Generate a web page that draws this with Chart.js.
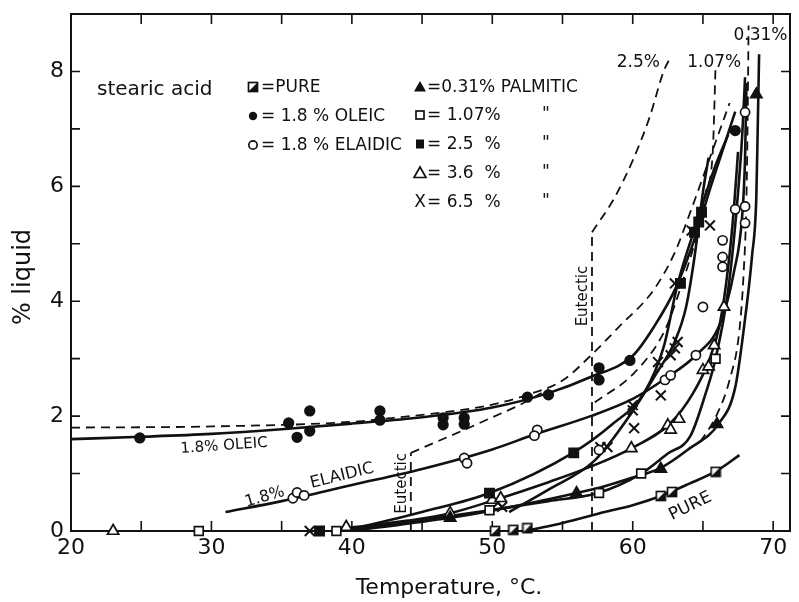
<!DOCTYPE html>
<html>
<head>
<meta charset="utf-8">
<script src="https://cdn.jsdelivr.net/npm/chart.js@4.4.1/dist/chart.umd.min.js"></script>
<style>
  html, body { margin: 0; padding: 0; background: #fff; }
  #wrap { width: 799px; height: 602px; }
</style>
</head>
<body>
<div id="wrap"><canvas id="grafica" width="799" height="602"></canvas></div>
<script>
// tick labels
const xTickLabels = [20, 30, 40, 50, 60, 70];
const yTickLabels = [0, 2, 4, 6, 8];
const xMinorTicks = [25, 30, 35, 40, 45, 50, 55, 60, 65, 70];
const yMinorTicks = [1, 2, 3, 4, 5, 6, 7, 8];

// measured points (temperature °C, % liquid)
const pureT = [50.2, 51.5, 52.5, 62.0, 62.8, 65.9];
const pureL = [0, 0.02, 0.05, 0.61, 0.68, 1.03];
const oleicT = [24.9, 35.5, 36.1, 37.0, 37.0, 42.0, 42.0, 46.5, 46.5, 48.0, 48.0, 52.5, 54.0, 57.6, 57.6, 59.8, 67.3];
const oleicL = [1.62, 1.88, 1.63, 2.09, 1.74, 2.09, 1.93, 1.97, 1.85, 1.97, 1.86, 2.33, 2.37, 2.84, 2.63, 2.97, 6.97];
const elaidicT = [35.8, 36.1, 36.6, 48.0, 48.2, 53.2, 53.0, 57.6, 62.3, 62.7, 64.5, 65.0, 66.4, 66.4, 66.4, 67.3, 68.0, 68.0, 68.0];
const elaidicL = [0.57, 0.67, 0.62, 1.27, 1.18, 1.76, 1.66, 1.41, 2.63, 2.71, 3.06, 3.9, 4.6, 4.77, 5.06, 5.6, 5.65, 5.36, 7.29];
const palm031T = [47.0, 56.0, 62.0, 66.0, 68.8];
const palm031L = [0.23, 0.66, 1.08, 1.86, 7.6];
const palm107T = [29.1, 38.9, 49.8, 57.6, 60.6, 65.9];
const palm107L = [0, 0, 0.36, 0.66, 1.0, 3.0];
const palm25T = [37.7, 49.8, 55.8, 63.4, 64.4, 64.7, 64.9];
const palm25L = [0, 0.66, 1.36, 4.31, 5.2, 5.38, 5.55];
const palm36T = [23.0, 39.6, 47.0, 50.0, 50.6, 59.9, 62.5, 62.7, 63.3, 65.0, 65.4, 65.8, 66.5];
const palm36L = [0, 0.07, 0.31, 0.54, 0.57, 1.44, 1.84, 1.76, 1.95, 2.8, 2.86, 3.23, 3.9];
const palm65T = [37.0, 50.4, 50.7, 57.7, 58.2, 60.0, 60.0, 60.1, 62.0, 61.8, 62.7, 63.0, 63.2, 63.0, 64.2, 65.5];
const palm65L = [0, 0.49, 0.42, 1.46, 1.46, 2.19, 2.1, 1.79, 2.36, 2.94, 3.06, 3.18, 3.29, 4.31, 5.23, 5.32];

// drawn curves (solid)
const fitOleicT = [20, 25, 30, 35, 40, 45, 50, 54, 57, 60, 61.5, 63.1, 64.5, 65.5, 66.5, 67.3];
const fitOleicL = [1.6, 1.64, 1.69, 1.77, 1.87, 1.98, 2.15, 2.4, 2.68, 3.05, 3.55, 4.25, 5.15, 5.95, 6.7, 7.3];
const fitElaidicT = [31, 35, 40, 45, 50, 53, 57, 60, 62.3, 64.5, 66.2, 67.2, 67.8, 68.0, 68.1];
const fitElaidicL = [0.33, 0.52, 0.8, 1.08, 1.42, 1.68, 2.0, 2.3, 2.65, 3.06, 3.6, 4.5, 5.5, 6.5, 7.8];
const fitPureT = [52.8, 55, 58, 60, 62, 64, 66, 67.6];
const fitPureL = [0.02, 0.14, 0.33, 0.45, 0.61, 0.82, 1.05, 1.32];
const fit031T = [40, 47, 52, 56, 58, 60, 62, 64, 66.1, 67.3, 67.9, 68.5, 68.8, 68.9, 69.0];
const fit031L = [0, 0.23, 0.45, 0.66, 0.78, 0.93, 1.1, 1.43, 1.86, 2.5, 3.5, 4.8, 5.8, 7.0, 8.3];
const fit107T = [39, 45, 49.8, 54, 57.5, 60.6, 62.5, 64.1, 65.2, 65.9, 66.8, 67.4, 67.8, 68.0];
const fit107L = [0, 0.19, 0.36, 0.52, 0.66, 1.0, 1.35, 1.65, 2.4, 3.0, 4.2, 5.6, 6.9, 7.9];
const fit25T = [40, 45, 49.8, 55.8, 58.5, 60.8, 62.2, 63.2, 64.6, 65.8, 66.8];
const fit25L = [0.03, 0.33, 0.66, 1.37, 1.85, 2.4, 3.2, 4.3, 5.4, 6.3, 6.9];
const fit36T = [39.6, 44, 47, 50.3, 54, 57, 59.9, 62.7, 64.3, 65.4, 66.2, 66.8, 67.2, 67.5];
const fit36L = [0.05, 0.18, 0.31, 0.55, 0.85, 1.12, 1.44, 1.88, 2.4, 2.95, 3.6, 4.6, 5.6, 6.6];
const fit65T = [51.2, 54, 57.3, 59.9, 61.7, 63, 63.8, 64.4, 65, 65.4];
const fit65L = [0.33, 0.72, 1.23, 2.05, 2.75, 3.3, 3.9, 4.77, 5.9, 6.5];

// dashed liquidus / eutectic lines
const liqOleicT = [20, 30, 40, 43, 47, 50, 52.5, 55, 57.2, 59, 61.5, 63, 64.1, 65.5, 66.9];
const liqOleicL = [1.8, 1.82, 1.9, 1.97, 2.08, 2.2, 2.37, 2.62, 3.1, 3.55, 4.2, 4.85, 5.55, 6.5, 7.45];
const eut44T = [44.2, 44.2];
const eut44L = [0, 1.36];
const liqElaidicT = [44.2, 46, 48, 50, 52, 54];
const liqElaidicL = [1.36, 1.55, 1.76, 1.98, 2.2, 2.47];
const eut57T = [57.1, 57.1];
const eut57L = [0, 5.2];
const liq25T = [57.1, 58.7, 60, 61.2, 62.2, 62.7];
const liq25L = [5.2, 5.8, 6.45, 7.2, 8.0, 8.25];
const liq107T = [57.3, 60.1, 62.3, 63.5, 64.5, 65.2, 65.7, 65.9];
const liq107L = [2.24, 2.75, 3.5, 4.3, 5.1, 5.9, 6.6, 8.1];
const liq031T = [64.8, 65.9, 66.9, 67.6, 67.9, 68.1, 68.2, 68.25];
const liq031L = [1.55, 1.98, 2.63, 3.5, 4.5, 5.8, 7.5, 8.8];

const ink = '#111';
const pts = (t, l) => t.map((v, i) => ({ x: v, y: l[i] }));

// half filled square for "pure"
function cuadroMitad() {
    const c = document.createElement('canvas');
    c.width = 12; c.height = 12;
    const g = c.getContext('2d');
    g.fillStyle = '#fff'; g.fillRect(1, 1, 10, 10);
    g.fillStyle = ink;
    g.beginPath(); g.moveTo(11, 1); g.lineTo(11, 11); g.lineTo(1, 11); g.closePath(); g.fill();
    g.strokeStyle = ink; g.lineWidth = 1.7; g.strokeRect(1.5, 1.5, 9, 9);
    return c;
}
const pureStyle = cuadroMitad();

function puntos(label, t, l, style, filled, r, bw) {
    return {
        label, data: pts(t, l), showLine: false, pointStyle: style, pointRadius: r,
        pointBackgroundColor: filled ? ink : '#fff', pointBorderColor: ink,
        pointBorderWidth: bw || 1.7, clip: false, order: 0
    };
}
function curva(label, t, l, dashed, straight) {
    return {
        label, data: pts(t, l), showLine: true, pointRadius: 0, borderColor: ink,
        borderWidth: dashed ? 1.8 : 2.6, borderDash: dashed ? [9, 6] : [],
        cubicInterpolationMode: straight ? 'default' : 'monotone', tension: 0,
        fill: false, order: 1
    };
}

const datasets = [
    puntos('pure', pureT, pureL, pureStyle, false, 6),
    puntos('1.8% oleic', oleicT, oleicL, 'circle', true, 4.8),
    puntos('1.8% elaidic', elaidicT, elaidicL, 'circle', false, 4.6),
    puntos('0.31% palmitic', palm031T, palm031L, 'triangle', true, 6.5),
    puntos('1.07% palmitic', palm107T, palm107L, 'rect', false, 6.2),
    puntos('2.5% palmitic', palm25T, palm25L, 'rect', true, 6.5),
    puntos('3.6% palmitic', palm36T, palm36L, 'triangle', false, 6.5),
    puntos('6.5% palmitic', palm65T, palm65L, 'crossRot', false, 7, 2),
    curva('fit oleic', fitOleicT, fitOleicL),
    curva('fit elaidic', fitElaidicT, fitElaidicL),
    curva('fit pure', fitPureT, fitPureL),
    curva('fit 0.31', fit031T, fit031L),
    curva('fit 1.07', fit107T, fit107L),
    curva('fit 2.5', fit25T, fit25L),
    curva('fit 3.6', fit36T, fit36L),
    curva('fit 6.5', fit65T, fit65L),
    curva('liq oleic', liqOleicT, liqOleicL, true),
    curva('eut 44', eut44T, eut44L, true, true),
    curva('liq elaidic', liqElaidicT, liqElaidicL, true),
    curva('eut 57', eut57T, eut57L, true, true),
    curva('liq 2.5', liq25T, liq25L, true),
    curva('liq 1.07', liq107T, liq107L, true),
    curva('liq 0.31', liq031T, liq031L, true)
];

function marca(ctx, kind, x, y) {
    ctx.save();
    ctx.fillStyle = ink; ctx.strokeStyle = ink; ctx.lineWidth = 1.7;
    if (kind === 'pure') {
        ctx.drawImage(pureStyle, x - 6, y - 6);
    } else if (kind === 'dot' || kind === 'ring') {
        ctx.beginPath(); ctx.arc(x, y, 4.2, 0, Math.PI * 2);
        if (kind === 'dot') ctx.fill(); else ctx.stroke();
    } else if (kind === 'sq' || kind === 'box') {
        if (kind === 'sq') ctx.fillRect(x - 4, y - 4.5, 8, 9); else ctx.strokeRect(x - 4, y - 4, 8, 8);
    } else if (kind === 'tri' || kind === 'opentri') {
        ctx.beginPath(); ctx.moveTo(x, y - 6); ctx.lineTo(x + 6, y + 4.5); ctx.lineTo(x - 6, y + 4.5); ctx.closePath();
        if (kind === 'tri') ctx.fill(); else ctx.stroke();
    }
    ctx.restore();
}

function texto(ctx, s, x, y, font, align, rot) {
    ctx.save();
    ctx.translate(x, y);
    if (rot) ctx.rotate(rot * Math.PI / 180);
    ctx.font = font; ctx.fillStyle = ink;
    ctx.textAlign = align || 'center'; ctx.textBaseline = 'middle';
    ctx.fillText(s, 0, 0);
    ctx.restore();
}

const papel = {
    id: 'papel',
    beforeDatasetsDraw(chart) {
        const { ctx, chartArea: a, scales: { x, y } } = chart;
        ctx.save();
        ctx.strokeStyle = ink;
        ctx.lineWidth = 2;
        ctx.strokeRect(a.left, a.top, a.right - a.left, a.bottom - a.top);
        ctx.lineWidth = 1.6;
        ctx.beginPath();
        xMinorTicks.forEach(t => {
            const px = x.getPixelForValue(t);
            ctx.moveTo(px, a.bottom); ctx.lineTo(px, a.bottom - 10);
            ctx.moveTo(px, a.top); ctx.lineTo(px, a.top + 10);
        });
        yMinorTicks.forEach(v => {
            const py = y.getPixelForValue(v);
            ctx.moveTo(a.left, py); ctx.lineTo(a.left + 9, py);
            ctx.moveTo(a.right, py); ctx.lineTo(a.right - 9, py);
        });
        ctx.stroke();
        ctx.restore();
        xTickLabels.forEach(t => texto(ctx, String(t), x.getPixelForValue(t), a.bottom + 17, '22px "DejaVu Sans"'));
        yTickLabels.forEach(v => texto(ctx, String(v), a.left - 7, y.getPixelForValue(v), '22px "DejaVu Sans"', 'right'));
        texto(ctx, 'Temperature, °C.', 449, 588, '22px "DejaVu Sans"');
        texto(ctx, '% liquid', 24, 277, '24px "DejaVu Sans"', 'center', -90);
    },
    afterDraw(chart) {
        const { ctx, scales: { x, y } } = chart;
        const P = (t, l) => [x.getPixelForValue(t), y.getPixelForValue(l)];
        const f = '16px "DejaVu Sans"';
        // key
        texto(ctx, 'stearic acid', 97, 90, '20px "DejaVu Sans"', 'left');
        const kf = '17px "DejaVu Sans"';
        marca(ctx, 'pure', 253, 87); texto(ctx, '=PURE', 261, 88, kf, 'left');
        marca(ctx, 'dot', 253, 116); texto(ctx, '= 1.8 % OLEIC', 261, 117, kf, 'left');
        marca(ctx, 'ring', 253, 145); texto(ctx, '= 1.8 % ELAIDIC', 261, 146, kf, 'left');
        marca(ctx, 'tri', 420, 87); texto(ctx, '=0.31% PALMITIC', 427, 88, kf, 'left');
        marca(ctx, 'box', 420, 115); texto(ctx, '= 1.07%', 427, 116, kf, 'left');
        marca(ctx, 'sq', 420, 144); texto(ctx, '= 2.5  %', 427, 145, kf, 'left');
        marca(ctx, 'opentri', 420, 173); texto(ctx, '= 3.6  %', 427, 174, kf, 'left');
        texto(ctx, 'X', 420, 203, kf); texto(ctx, '= 6.5  %', 427, 203, kf, 'left');
        [116, 145, 174, 203].forEach(py => texto(ctx, '"', 546, py - 1, kf));
        // curve labels
        let p = P(30.9, 1.48); texto(ctx, '1.8% OLEIC', p[0], p[1], '15px "DejaVu Sans"', 'center', -4);
        p = P(33.8, 0.59); texto(ctx, '1.8%', p[0], p[1], f, 'center', -16);
        p = P(39.3, 0.96); texto(ctx, 'ELAIDIC', p[0], p[1], '16.5px "DejaVu Sans"', 'center', -14);
        p = P(64.1, 0.43); texto(ctx, 'PURE', p[0], p[1], '17px "DejaVu Sans"', 'center', -26);
        p = P(60.4, 8.16); texto(ctx, '2.5%', p[0], p[1], '17px "DejaVu Sans"');
        p = P(65.8, 8.16); texto(ctx, '1.07%', p[0], p[1], '17px "DejaVu Sans"');
        p = P(69.1, 8.62); texto(ctx, '0.31%', p[0], p[1], '17px "DejaVu Sans"');
        p = P(56.5, 4.09); texto(ctx, 'Eutectic', p[0], p[1], '15px "DejaVu Sans"', 'center', -90);
        p = P(43.6, 0.83); texto(ctx, 'Eutectic', p[0], p[1], '15px "DejaVu Sans"', 'center', -90);
    }
};

new Chart(document.getElementById('grafica'), {
    type: 'scatter',
    data: { datasets },
    options: {
        responsive: false,
        animation: false,
        devicePixelRatio: 1,
        layout: { padding: { top: 14, right: 1, left: 0, bottom: 0 } },
        plugins: { legend: { display: false }, tooltip: { enabled: false } },
        scales: {
            x: {
                type: 'linear', min: 20, max: 71.2,
                grid: { display: false }, border: { display: false },
                ticks: { display: false },
                afterFit: s => { s.height = 71; }
            },
            y: {
                type: 'linear', min: 0, max: 9,
                grid: { display: false }, border: { display: false },
                ticks: { display: false },
                afterFit: s => { s.width = 71; }
            }
        }
    },
    plugins: [papel]
});
</script>
</body>
</html>
